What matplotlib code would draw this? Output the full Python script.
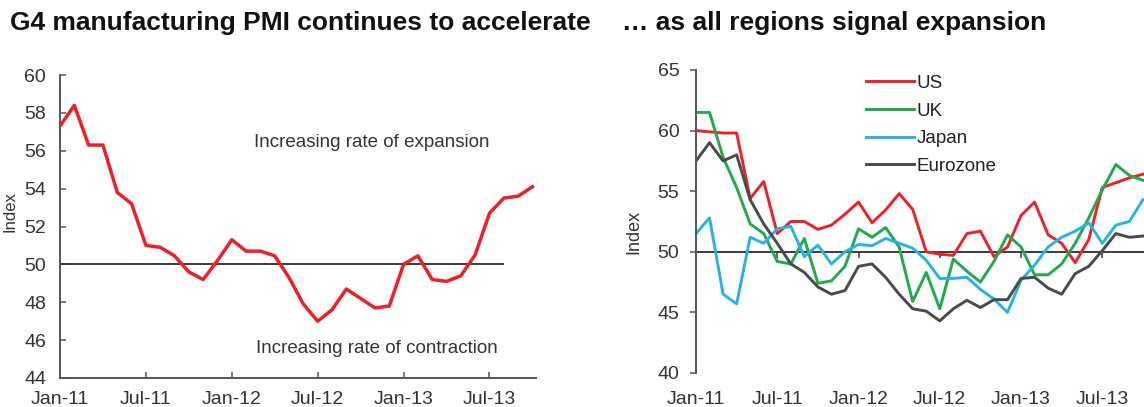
import matplotlib
matplotlib.use("Agg")
import matplotlib.pyplot as plt
import pandas as pd

plt.rcParams["font.family"] = ["Liberation Sans", "DejaVu Sans"]

# ── data (monthly, Jan-11 .. Oct-13)
g4_pmi = [57.3, 58.4, 56.3, 56.3, 53.8, 53.2, 51.0, 50.9, 50.45, 49.6, 49.2, 50.2,
          51.3, 50.7, 50.7, 50.45, 49.3, 47.9, 47.0, 47.6, 48.7, 48.2, 47.7, 47.8,
          50.0, 50.45, 49.2, 49.1, 49.4, 50.5, 52.7, 53.5, 53.6, 54.1]

us = [60.0, 59.9, 59.8, 59.8, 54.4, 55.8, 51.5, 52.5, 52.5, 51.85, 52.2, 53.1,
      54.1, 52.4, 53.45, 54.8, 53.5, 50.0, 49.8, 49.7, 51.5, 51.7, 49.6, 50.4,
      53.0, 54.1, 51.4, 50.7, 49.1, 51.0, 55.3, 55.7, 56.1, 56.4]
uk = [61.5, 61.5, 57.8, 55.3, 52.3, 51.5, 49.2, 49.0, 51.1, 47.4, 47.6, 48.8,
      51.9, 51.2, 52.0, 50.4, 45.9, 48.3, 45.3, 49.4, 48.4, 47.5, 49.2, 51.4,
      50.4, 48.1, 48.1, 49.0, 50.7, 52.8, 55.1, 57.2, 56.3, 55.9]
japan = [51.5, 52.8, 46.5, 45.7, 51.2, 50.7, 51.9, 52.1, 49.6, 50.55, 49.0, 50.0,
         50.6, 50.5, 51.1, 50.7, 50.3, 49.3, 47.8, 47.8, 47.9, 46.9, 46.1, 45.0,
         47.65, 48.9, 50.4, 51.2, 51.7, 52.4, 50.7, 52.2, 52.5, 54.3]
eurozone = [57.5, 59.0, 57.5, 58.0, 54.3, 52.3, 50.7, 49.0, 48.3, 47.1, 46.5, 46.8,
            48.8, 49.0, 47.9, 46.5, 45.3, 45.1, 44.3, 45.3, 46.0, 45.4, 46.05, 46.05,
            47.8, 47.9, 47.0, 46.5, 48.2, 48.8, 50.1, 51.5, 51.2, 51.3]

tick_labels = ["Jan-11", "Jul-11", "Jan-12", "Jul-12", "Jan-13", "Jul-13"]
guide_end = "Aug-13"   # the 50 line in the left panel stops here

months = list(pd.date_range("2011-01-01", periods=len(g4_pmi), freq="MS").strftime("%b-%y"))
x = list(range(len(months)))
ticks = [months.index(t) for t in tick_labels]

series = [("US", us, "#ec2127"), ("UK", uk, "#23a84a"),
          ("Japan", japan, "#27b2e6"), ("Eurozone", eurozone, "#4a4a4a")]

AX_COL = "#555555"
TXT_COL = "#333333"

W, H = 1144, 407
fig = plt.figure(figsize=(W / 100, H / 100), dpi=100)

# ── left panel: G4 PMI
ax1 = fig.add_axes([60 / W, 1 - 378 / H, 476 / W, 303 / H])
ax1.plot(x, g4_pmi, color="#ec2127", linewidth=2.5, zorder=3)
ax1.hlines(50, 0, months.index(guide_end), color="#3a3a3a", linewidth=1.4, zorder=2)
ax1.set_xlim(0, len(months) - 0.75)
ax1.set_ylim(44, 60)
ax1.set_yticks(range(44, 61, 2))
ax1.set_xticks(ticks)
ax1.set_xticklabels(tick_labels)
ax1.tick_params(direction="in", length=4, width=1.1, color=AX_COL,
                labelsize=14, labelcolor=TXT_COL)
ax1.tick_params(axis="x", pad=9)
ax1.tick_params(axis="y", pad=10)
for s in ("top", "right"):
    ax1.spines[s].set_visible(False)
for s in ("left", "bottom"):
    ax1.spines[s].set_color(AX_COL)
    ax1.spines[s].set_linewidth(1.4)
ax1.set_ylabel("Index", fontsize=12, color=TXT_COL)
ax1.yaxis.set_label_coords(-0.09, 0.55)
ax1.text(21.8, 56.45, "Increasing rate of expansion", ha="center", va="center",
         fontsize=13.5, color=TXT_COL)
ax1.text(22.1, 45.55, "Increasing rate of contraction", ha="center", va="center",
         fontsize=13.5, color=TXT_COL)

# ── right panel: regions
ax2 = fig.add_axes([696 / W, 1 - 373 / H, 451 / W, 303 / H])
for name, vals, col in series:
    ax2.plot(x, vals, color=col, linewidth=2.1, label=name)
ax2.set_xlim(0, len(months) - 0.7)
ax2.set_ylim(40, 65)
ax2.set_yticks(range(40, 66, 5))
ax2.set_xticks(ticks)
ax2.set_xticklabels(tick_labels)
ax2.tick_params(axis="x", length=0, labelsize=14, labelcolor=TXT_COL, pad=13)
ax2.tick_params(axis="y", direction="out", length=4, width=1.1, color=AX_COL,
                labelsize=14, labelcolor=TXT_COL, pad=8)
for s in ("top", "right", "bottom"):
    ax2.spines[s].set_visible(False)
ax2.spines["left"].set_color(AX_COL)
ax2.spines["left"].set_linewidth(1.4)
ax2.set_ylabel("Index", fontsize=13, color=TXT_COL)
ax2.yaxis.set_label_coords(-0.12, 0.465)

# horizontal axis line crossing at 50, with its own tick marks
mid = ax2.secondary_xaxis((50 - 40) / (65 - 40))
mid.set_xticks(ticks)
mid.set_xticklabels([])
mid.tick_params(direction="out", length=4, width=1.1, color="#3a3a3a")
mid.spines["bottom"].set_color("#3a3a3a")
mid.spines["bottom"].set_linewidth(1.4)

ax2.legend(loc="upper left", bbox_to_anchor=(0.34, 1.04), frameon=False,
           fontsize=13.5, handlelength=2.55, handletextpad=0.15, labelspacing=0.56,
           labelcolor="#222222")

# ── titles
fig.text(10 / W, 1 - 23 / H, "G4 manufacturing PMI continues to accelerate",
         fontsize=19, fontweight="bold", color="#111111", va="center")
fig.text(622 / W, 1 - 23 / H, "\u2026 as all regions signal expansion",
         fontsize=19, fontweight="bold", color="#111111", va="center")

fig.savefig("out.png", dpi=100)
